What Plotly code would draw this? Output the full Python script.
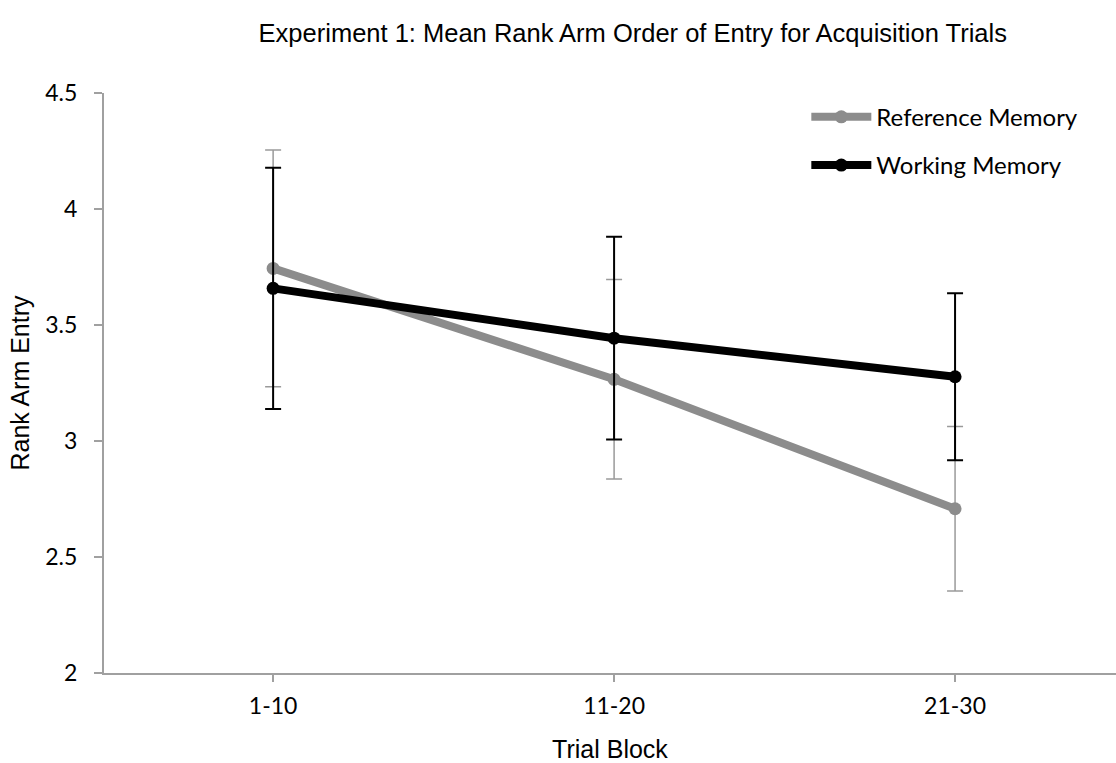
import plotly.graph_objects as go

categories = ["1-10", "11-20", "21-30"]
ref_mean = [3.744, 3.266, 2.708]
ref_err = [0.51, 0.43, 0.355]
work_mean = [3.658, 3.443, 3.277]
work_err = [0.52, 0.437, 0.36]
y_ticks = [2, 2.5, 3, 3.5, 4, 4.5]
y_ticklabels = ["2", "2.5", "3", "3.5", "4", "4.5"]

xpos = list(range(len(categories)))

fig = go.Figure()
fig.add_trace(go.Scatter(
    x=xpos, y=ref_mean, name="Reference Memory", mode="lines+markers",
    line=dict(color="#8c8c8c", width=8),
    marker=dict(color="#8c8c8c", size=13),
    error_y=dict(type="data", array=ref_err, visible=True, color="#9a9a9a", thickness=1.5, width=8),
    legendgroup="a",
))
fig.add_trace(go.Scatter(
    x=xpos, y=work_mean, name="Working Memory", mode="lines+markers",
    line=dict(color="#000000", width=8),
    marker=dict(color="#000000", size=13),
    error_y=dict(type="data", array=work_err, visible=True, color="#000000", thickness=2, width=8),
    legendgroup="b",
))

fig.update_layout(
    width=1116, height=763,
    paper_bgcolor="white", plot_bgcolor="white",
    margin=dict(l=104, r=0, t=93, b=90),
    title=dict(text="Experiment 1: Mean Rank Arm Order of Entry for Acquisition Trials",
               x=0.567, xanchor="center", y=0.957, yanchor="middle",
               font=dict(family="Liberation Sans, Arial", size=25.5, color="black")),
    showlegend=True,
    legend=dict(x=0.694, xanchor="left", y=0.997, yanchor="top",
                font=dict(family="Lato, Carlito, sans-serif", size=24, color="black"),
                tracegroupgap=14, bgcolor="rgba(0,0,0,0)", itemwidth=60),
)
fig.update_xaxes(
    range=[-0.496, 2.472], tickmode="array", tickvals=xpos, ticktext=categories,
    showline=True, linecolor="#a0a0a0", linewidth=2, ticks="outside", ticklen=7,
    tickcolor="#a0a0a0", tickwidth=2, showgrid=False, zeroline=False,
    ticklabelstandoff=4,
    tickfont=dict(family="Lato, Carlito, sans-serif", size=23, color="black"),
    title=dict(text="Trial Block", font=dict(family="Liberation Sans, Arial", size=25, color="black"), standoff=24),
)
fig.update_yaxes(
    range=[2, 4.5], tickmode="array", tickvals=y_ticks, ticktext=y_ticklabels,
    showline=True, linecolor="#a0a0a0", linewidth=2, ticks="outside", ticklen=8,
    tickcolor="#a0a0a0", tickwidth=2, showgrid=False, zeroline=False,
    ticklabelstandoff=12,
    tickfont=dict(family="Lato, Carlito, sans-serif", size=23, color="black"),
    title=dict(text="Rank Arm Entry", font=dict(family="Liberation Sans, Arial", size=25, color="black"), standoff=9),
)

fig.write_html("out.html")
